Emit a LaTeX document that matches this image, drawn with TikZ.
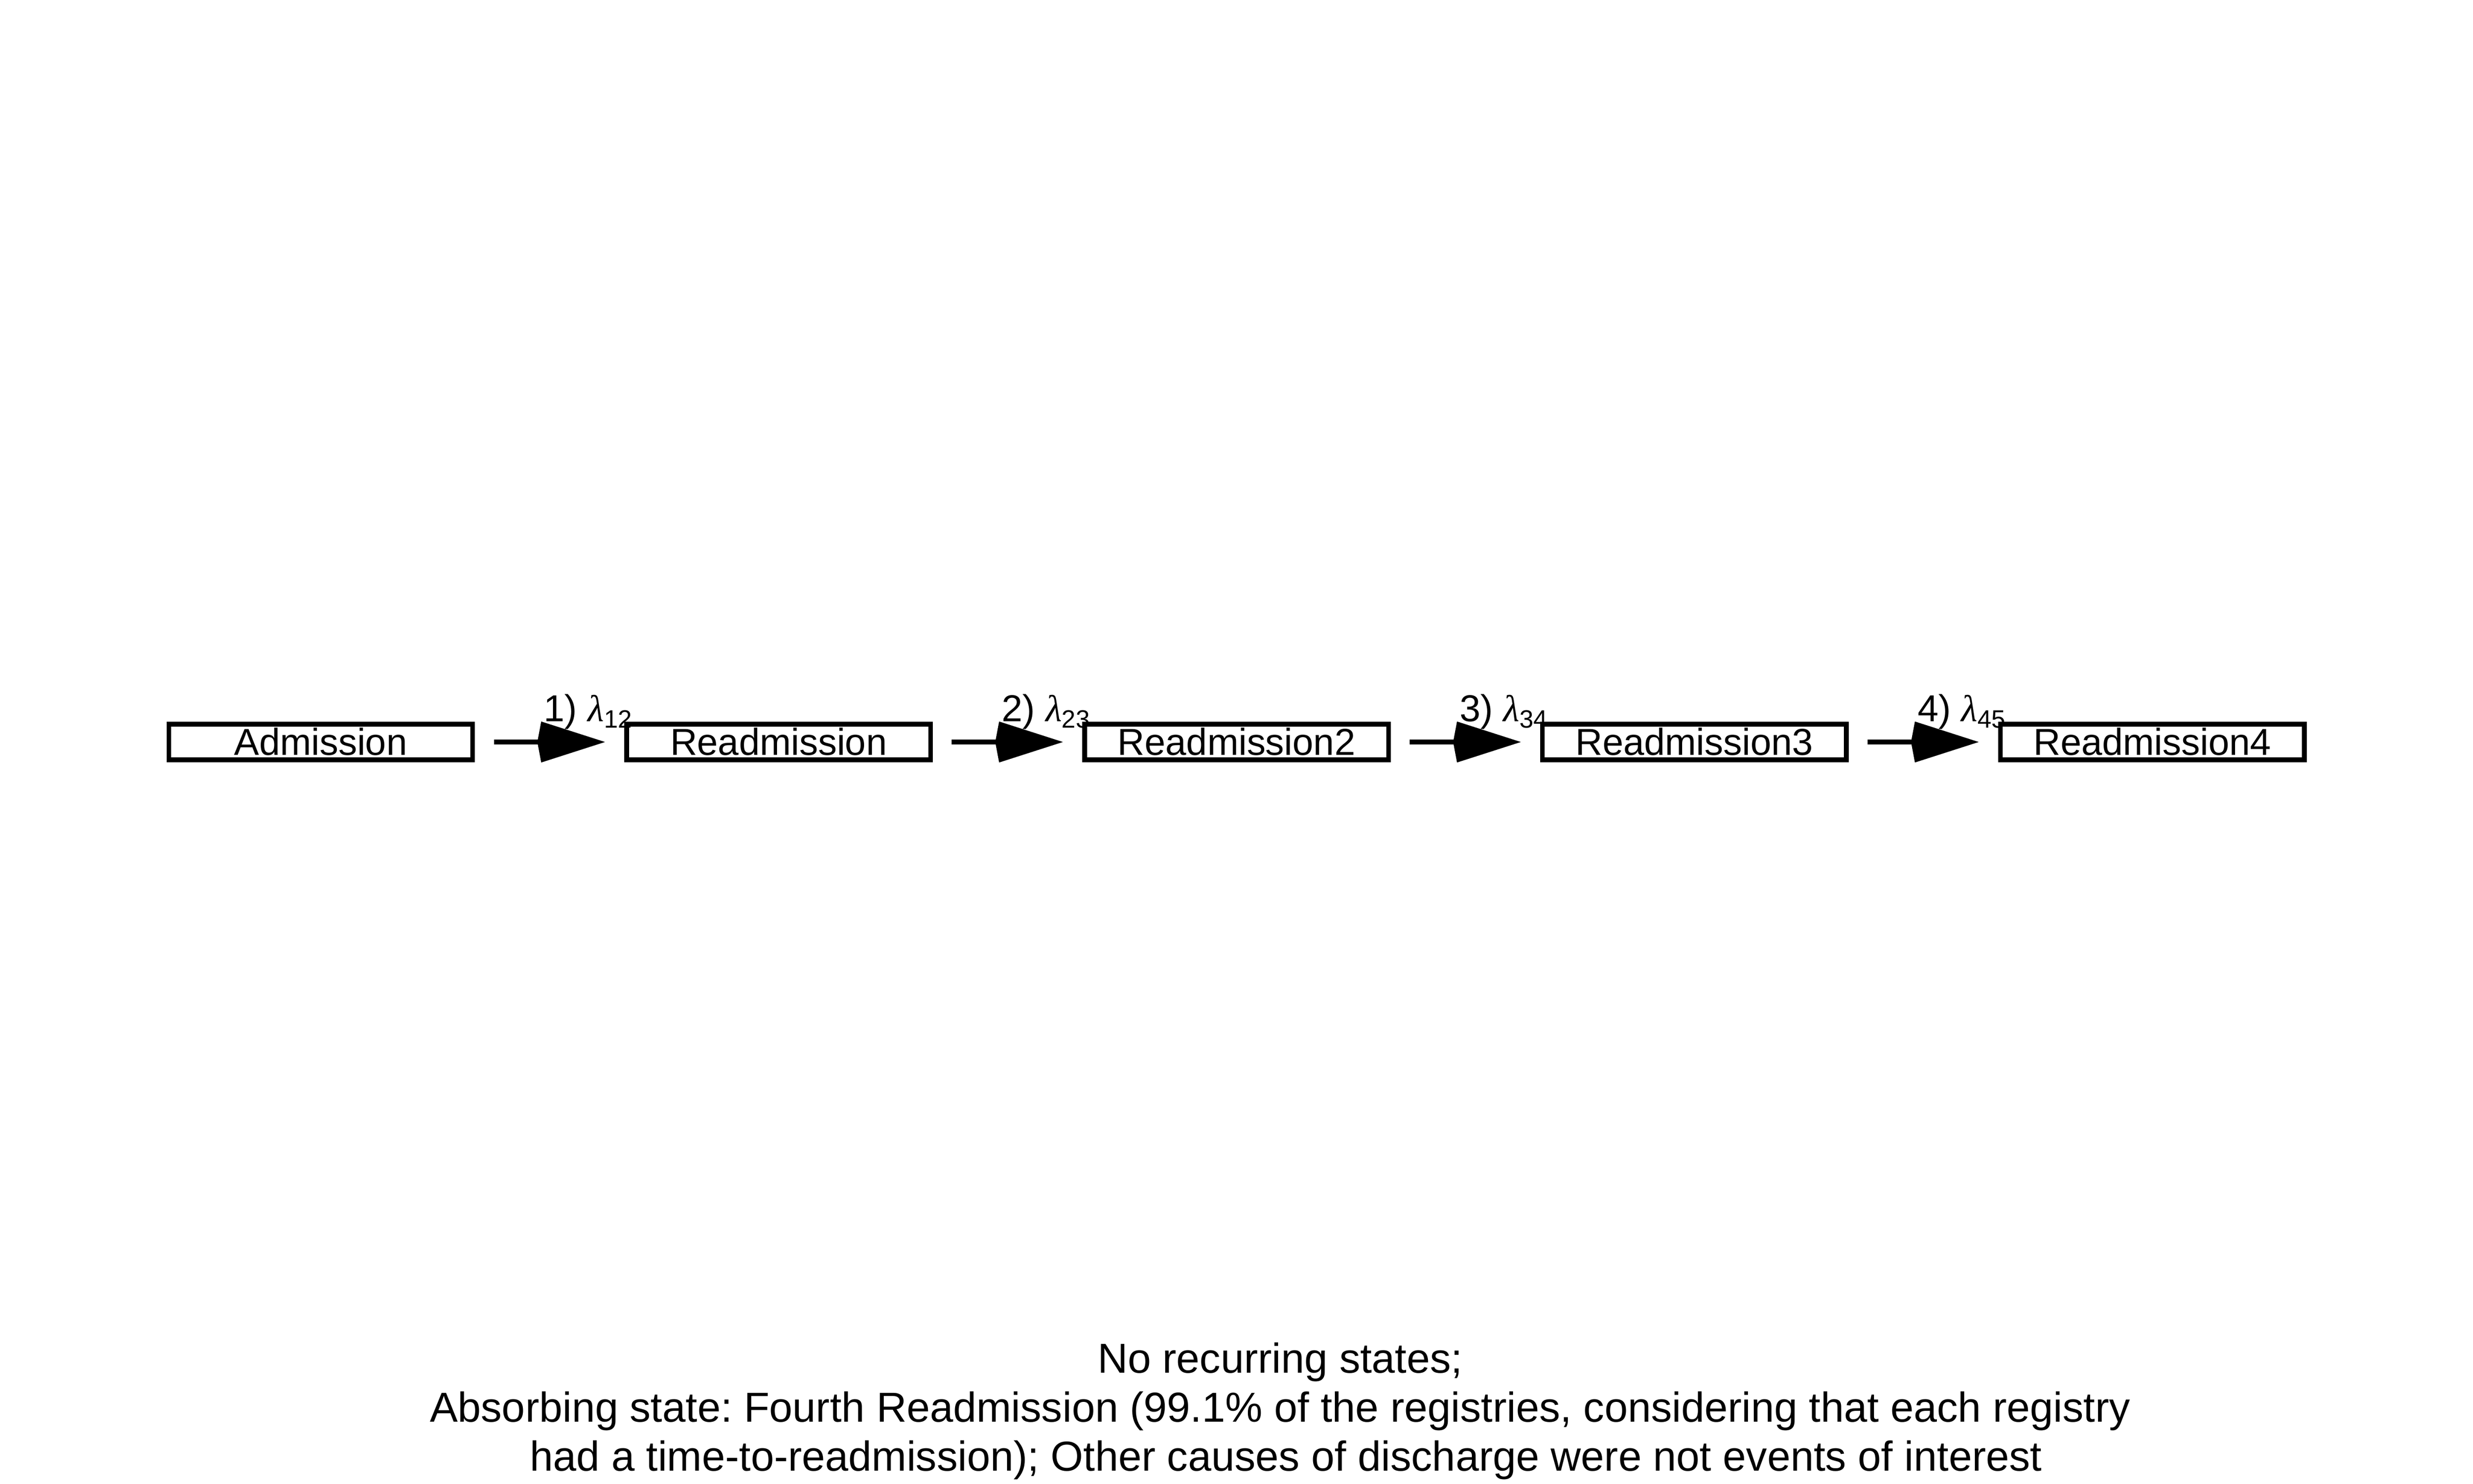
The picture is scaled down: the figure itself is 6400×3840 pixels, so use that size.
\documentclass[tikz,border=0pt]{standalone}
\usepackage{fontspec}
\setmainfont{Liberation Sans}
\newfontfamily\lamfont{Liberation Serif}
\usetikzlibrary{arrows.meta}
\newcommand{\lam}{{\lamfont\itshape λ}}
\newcommand{\lsub}[1]{\raisebox{-0.16cm}{\fontsize{18.5pt}{18.5pt}\selectfont #1}}
\frenchspacing
\begin{document}
\begin{tikzpicture}[x=0.01cm, y=-0.01cm,
  state/.style={draw, line width=0.12cm, minimum width=7.86cm, minimum height=0.92cm,
    inner sep=0pt, text height=0.69cm, text depth=0pt,
    font=\fontsize{27.6pt}{33pt}\selectfont},
  trans/.style={line width=0.12cm, shorten <=0.49cm, shorten >=0.5cm,
    -{Kite[length=1.75cm, width=1.06cm, inset=0.1cm, line width=0pt]}},
  lab/.style={anchor=base west, inner sep=0pt, font=\fontsize{27.6pt}{33pt}\selectfont},
  note/.style={anchor=base, inner sep=0pt, font=\fontsize{30.8pt}{36pt}\selectfont}]
\useasboundingbox (0,0) rectangle (6400,3840);
\node[state] (s1) at (830,1920) {Admission};
\node[state] (s2) at (2015,1920) {Readmission};
\node[state] (s3) at (3200,1920) {Readmission2};
\node[state] (s4) at (4385,1920) {Readmission3};
\node[state] (s5) at (5570,1920) {Readmission4};
\draw[trans] (s1) -- (s2);
\draw[trans] (s2) -- (s3);
\draw[trans] (s3) -- (s4);
\draw[trans] (s4) -- (s5);
\node[lab] (l1) at (1407,1867) {1) \lam\lsub{12}};
\node[lab] (l2) at (2592,1867) {2) \lam\lsub{23}};
\node[lab] (l3) at (3777,1867) {3) \lam\lsub{34}};
\node[lab] (l4) at (4962,1867) {4) \lam\lsub{45}};
\node[note] (n1) at (3313,3552) {No recurring states;};
\node[note] (n2) at (3313,3679) {Absorbing state: Fourth Readmission (99.1\% of the registries, considering that each registry};
\node[note] (n3) at (3328,3806) {had a time-to-readmission); Other causes of discharge were not events of interest};
\end{tikzpicture}
\end{document}
